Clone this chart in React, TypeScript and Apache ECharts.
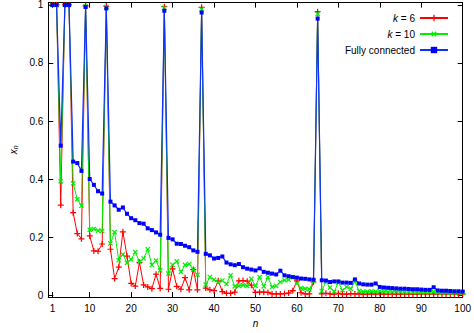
import { useEffect, useRef } from 'react';
import * as echarts from 'echarts';

const nValues = Array.from({ length: 100 }, (_, i) => i + 1);

const k6 = [
  1.0, 1.0, 0.31, 1.0, 1.0, 0.284, 0.212, 0.194, 0.997, 0.204,
  0.152, 0.151, 0.176, 0.996, 0.158, 0.057, 0.096, 0.218, 0.134, 0.04,
  0.031, 0.113, 0.035, 0.028, 0.022, 0.072, 0.023, 0.994, 0.02, 0.09,
  0.03, 0.02, 0.06, 0.018, 0.088, 0.018, 0.992, 0.024, 0.018, 0.015,
  0.049, 0.012, 0.006, 0.006, 0.01, 0.049, 0.05, 0.048, 0.034, 0.009,
  0.01, 0.01, 0.009, 0.004, 0.004, 0.004, 0.005, 0.007, 0.015, 0.049,
  0.008, 0.004, 0.004, 0.045, 0.977, 0.004, 0.006, 0.004, 0.003, 0.006,
  0.003, 0.003, 0.005, 0.004, 0.004, 0.003, 0.003, 0.004, 0.003, 0.005,
  0.003, 0.003, 0.004, 0.003, 0.003, 0.004, 0.003, 0.003, 0.003, 0.004,
  0.003, 0.003, 0.004, 0.003, 0.003, 0.003, 0.004, 0.003, 0.003, 0.003,
];

const k10 = [
  1.0, 1.0, 0.392, 1.0, 1.0, 0.385, 0.33, 0.308, 0.996, 0.225,
  0.228, 0.222, 0.221, 0.993, 0.178, 0.217, 0.12, 0.14, 0.111, 0.123,
  0.148, 0.115, 0.126, 0.158, 0.104, 0.119, 0.085, 0.99, 0.074, 0.104,
  0.116, 0.08, 0.104, 0.107, 0.088, 0.07, 0.985, 0.036, 0.062, 0.053,
  0.045, 0.05, 0.038, 0.068, 0.03, 0.032, 0.034, 0.031, 0.056, 0.032,
  0.062, 0.03, 0.062, 0.028, 0.032, 0.045, 0.051, 0.053, 0.062, 0.04,
  0.024, 0.022, 0.02, 0.048, 0.969, 0.014, 0.046, 0.026, 0.012, 0.043,
  0.017, 0.028, 0.022, 0.047, 0.014, 0.012, 0.012, 0.013, 0.012, 0.014,
  0.012, 0.011, 0.011, 0.012, 0.011, 0.01, 0.011, 0.01, 0.01, 0.009,
  0.01, 0.009, 0.012, 0.009, 0.008, 0.009, 0.008, 0.008, 0.008, 0.007,
];

const fullyConnected = [
  1.0, 1.0, 0.515, 1.0, 1.0, 0.46, 0.455, 0.428, 0.993, 0.4,
  0.38, 0.358, 0.35, 0.988, 0.322, 0.309, 0.294, 0.302, 0.28, 0.265,
  0.258, 0.248, 0.246, 0.23, 0.224, 0.216, 0.208, 0.98, 0.197, 0.192,
  0.177, 0.176, 0.17, 0.165, 0.154, 0.149, 0.974, 0.142, 0.137, 0.126,
  0.128, 0.133, 0.112, 0.106, 0.103, 0.107, 0.096, 0.091, 0.088, 0.085,
  0.092, 0.08, 0.077, 0.074, 0.071, 0.084, 0.068, 0.065, 0.062, 0.06,
  0.057, 0.056, 0.054, 0.053, 0.953, 0.051, 0.05, 0.045, 0.047, 0.047,
  0.043, 0.043, 0.042, 0.054, 0.04, 0.037, 0.036, 0.036, 0.04, 0.028,
  0.026, 0.025, 0.024, 0.023, 0.022, 0.022, 0.021, 0.02, 0.02, 0.019,
  0.018, 0.018, 0.027, 0.016, 0.015, 0.015, 0.014, 0.013, 0.013, 0.012,
];

const xTicks = [1, 10, 20, 30, 40, 50, 60, 70, 80, 90, 100];
const yTicks = [0, 0.2, 0.4, 0.6, 0.8, 1];

const FONT = 'Liberation Sans, Arial, sans-serif';
const PLUS = 'path://M4,0H6V4H10V6H6V10H4V6H0V4H4Z';

export default function App() {
  const ref = useRef<HTMLDivElement>(null);
  useEffect(() => {
    document.body.style.margin = '0';
    const chart = echarts.init(ref.current!, null, { renderer: 'svg' });
    const axisLineStyle = { color: '#000', width: 1 };
    const xBase = {
      type: 'value',
      min: 0,
      max: 100,
      splitLine: { show: false },
      axisLine: { show: true, onZero: false, lineStyle: axisLineStyle },
      axisTick: { show: true, inside: true, length: 5, customValues: xTicks, lineStyle: axisLineStyle },
    };
    const yBase = {
      type: 'value',
      min: -0.007,
      max: 1.008,
      splitLine: { show: false },
      axisLine: { show: true, onZero: false, lineStyle: axisLineStyle },
      axisTick: { show: true, inside: true, length: 5, customValues: yTicks, lineStyle: axisLineStyle },
    };
    const mk = (arr: number[]) => nValues.map((n, i) => [n, arr[i]]);
    chart.setOption({
      animation: false,
      textStyle: { fontFamily: FONT },
      grid: { left: 37.5, right: 8.5, top: 2.5, bottom: 31, containLabel: false },
      legend: {
        orient: 'vertical',
        right: 20,
        top: 8,
        align: 'right',
        itemWidth: 28,
        itemHeight: 8,
        itemGap: 6,
        textStyle: {
          fontSize: 10,
          color: '#000',
          fontFamily: FONT,
          rich: { i: { fontStyle: 'italic', fontSize: 10, fontFamily: FONT, color: '#000' } },
        },
        formatter: (name: string) => (name.startsWith('k') ? '{i|k}' + name.slice(1) : name),
        data: ['k = 6', 'k = 10', 'Fully connected'],
      },
      xAxis: [
        {
          ...xBase,
          position: 'bottom',
          axisLabel: { customValues: xTicks, fontSize: 10, color: '#000', margin: 6, fontFamily: FONT },
          name: 'n',
          nameLocation: 'middle',
          nameGap: 19,
          nameTextStyle: { fontStyle: 'italic', fontSize: 10, color: '#000', fontFamily: FONT },
        },
        { ...xBase, position: 'top', axisLabel: { show: false } },
      ],
      yAxis: [
        {
          ...yBase,
          position: 'left',
          axisLabel: {
            customValues: yTicks,
            fontSize: 10,
            color: '#000',
            margin: 5,
            fontFamily: FONT,
            formatter: (v: number) => String(Math.round(v * 10) / 10),
          },
          name: '{i|x}{s|n}',
          nameLocation: 'middle',
          nameRotate: 90,
          nameGap: 29,
          nameTextStyle: {
            fontSize: 10,
            color: '#000',
            rich: {
              i: { fontStyle: 'italic', fontSize: 10, fontFamily: FONT, color: '#000' },
              s: { fontStyle: 'italic', fontSize: 7, fontFamily: FONT, color: '#000', padding: [4, 0, 0, 0] },
            },
          },
        },
        { ...yBase, position: 'right', axisLabel: { show: false } },
      ],
      series: [
        {
          name: 'k = 6',
          type: 'line',
          data: mk(k6),
          symbol: PLUS,
          symbolSize: 6,
          color: '#ff0000',
          lineStyle: { color: '#ff0000', width: 1 },
          itemStyle: { color: '#ff0000' },
          emphasis: { disabled: true },
        },
        {
          name: 'k = 10',
          type: 'line',
          data: mk(k10),
          symbol: PLUS,
          symbolRotate: 45,
          symbolSize: 6,
          color: '#00ee00',
          lineStyle: { color: '#00ee00', width: 1 },
          itemStyle: { color: '#00ee00' },
          emphasis: { disabled: true },
        },
        {
          name: 'Fully connected',
          type: 'line',
          data: mk(fullyConnected),
          symbol: 'rect',
          symbolSize: 4,
          color: '#1030ff',
          lineStyle: { color: '#1030ff', width: 1.2 },
          itemStyle: { color: '#0000ff' },
          emphasis: { disabled: true },
        },
      ],
    });
    return () => chart.dispose();
  }, []);
  return <div ref={ref} style={{ width: 474, height: 333 }} />;
}
